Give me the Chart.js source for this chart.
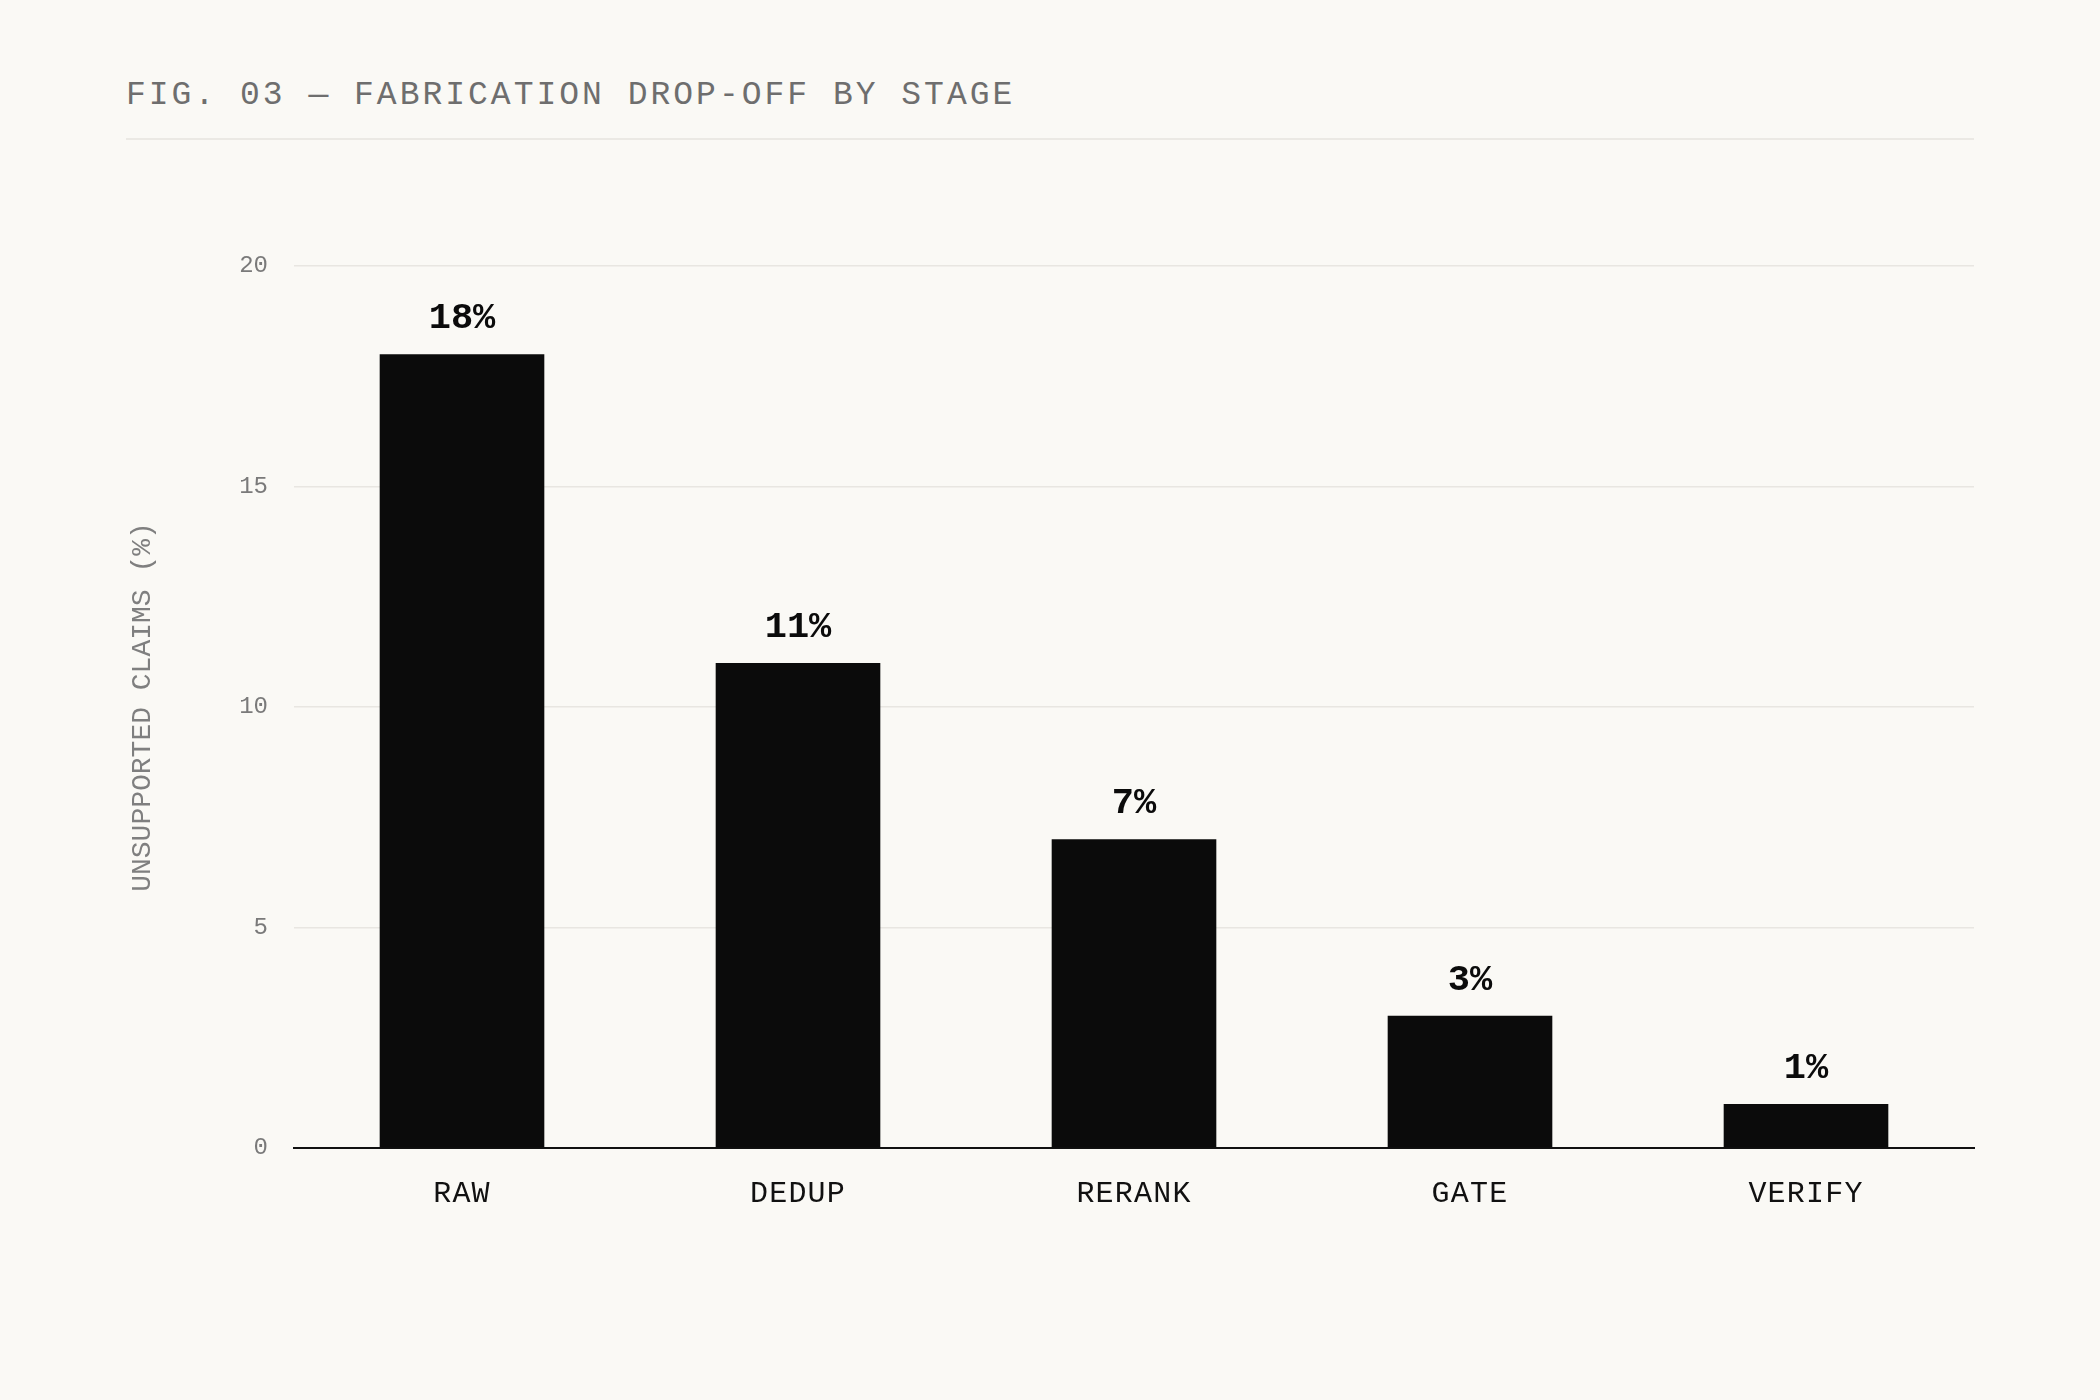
<!DOCTYPE html>
<html>
<head>
<meta charset="utf-8">
<script src="https://cdn.jsdelivr.net/npm/chart.js@4"></script>
<style>
  html, body { margin: 0; padding: 0; background: #faf9f5; }
  #wrap { position: relative; width: 2100px; height: 1400px; }
  #title {
    position: absolute; left: 126px; top: 78px;
    font-family: "Liberation Mono", monospace; font-size: 33px; line-height: 36px;
    letter-spacing: 3px; color: #6e6e6e; white-space: nowrap;
  }
  #rule { position: absolute; left: 126px; top: 138px; width: 1848px; height: 2px; background: #ebe9e4; }
  canvas { position: absolute; left: 0; top: 0; }
</style>
</head>
<body>
<div id="wrap">
  <div id="title">FIG. 03 — FABRICATION DROP-OFF BY STAGE</div>
  <div id="rule"></div>
  <canvas id="c" width="2100" height="1400"></canvas>
</div>
<script>
const stages = ["RAW", "DEDUP", "RERANK", "GATE", "VERIFY"];
const unsupportedPct = [18, 11, 7, 3, 1];
const yTicks = [0, 5, 10, 15, 20];
const yAxisTitle = "UNSUPPORTED CLAIMS (%)";

const valueLabels = {
  id: "valueLabels",
  afterUpdate(chart) {
    const s = chart.scales.x;
    if (s && !s._spaced) {
      const orig = s.drawLabels.bind(s);
      s.drawLabels = function (area) {
        const ctx = chart.ctx;
        ctx.save();
        ctx.letterSpacing = "1.2px";
        orig(area);
        ctx.restore();
      };
      s._spaced = true;
    }
  },
  afterDatasetsDraw(chart) {
    const ctx = chart.ctx;
    const meta = chart.getDatasetMeta(0);
    ctx.save();
    ctx.font = "bold 37px 'Liberation Mono', monospace";
    ctx.fillStyle = "#0b0b0b";
    ctx.textAlign = "center";
    ctx.textBaseline = "alphabetic";
    meta.data.forEach((bar, i) => {
      ctx.fillText(unsupportedPct[i] + "%", bar.x, bar.y - 26);
    });
    ctx.restore();
  }
};

new Chart(document.getElementById("c"), {
  type: "bar",
  data: {
    labels: stages,
    datasets: [{
      data: unsupportedPct,
      backgroundColor: "#0b0b0b",
      borderWidth: 0,
      categoryPercentage: 1,
      barPercentage: 0.49
    }]
  },
  options: {
    responsive: false,
    animation: false,
    events: [],
    layout: { padding: { left: 126, right: 126, top: 266, bottom: 0 } },
    plugins: { legend: { display: false }, tooltip: { enabled: false }, title: { display: false } },
    scales: {
      x: {
        grid: { display: false, drawTicks: false },
        border: { display: true, color: "#111111", width: 2 },
        ticks: {
          color: "#111111",
          padding: 28,
          font: { family: "'Liberation Mono', monospace", size: 30 }
        },
        afterFit(scale) { scale.height = 252; }
      },
      y: {
        min: 0, max: 20,
        afterBuildTicks(scale) { scale.ticks = yTicks.map(v => ({ value: v })); },
        grid: { color: "#e8e6e1", lineWidth: 1.5, drawTicks: false },
        border: { display: false },
        ticks: {
          color: "#7a7a7a",
          padding: 26,
          font: { family: "'Liberation Mono', monospace", size: 24 }
        },
        title: {
          display: true,
          text: yAxisTitle,
          color: "#7f7f7f",
          padding: { top: 0, bottom: 0 },
          font: { family: "'Liberation Mono', monospace", size: 28 }
        },
        afterFit(scale) { scale.width = 168; }
      }
    }
  },
  plugins: [valueLabels]
});
</script>
</body>
</html>
